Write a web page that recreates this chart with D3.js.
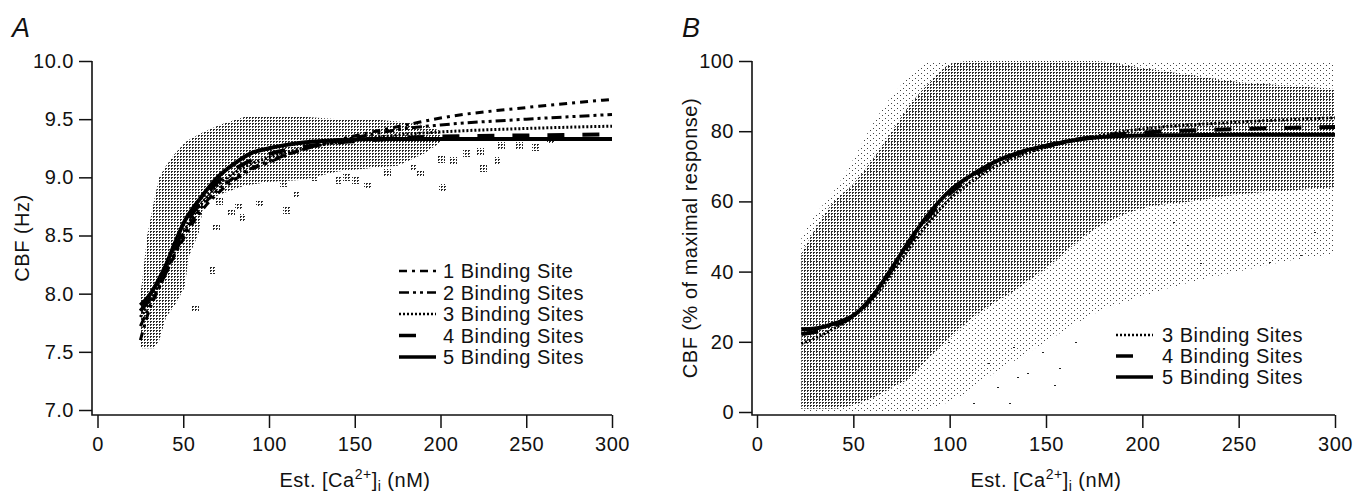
<!DOCTYPE html>
<html>
<head>
<meta charset="utf-8">
<script src="https://cdn.jsdelivr.net/npm/d3@7"></script>
<style>
  body { margin: 0; background: #fff; }
  text { font-family: "Liberation Sans", Arial, sans-serif; fill: #111; letter-spacing: 0.5px; }
</style>
</head>
<body>
<svg id="chart" width="1356" height="493"></svg>
<script>
// ---- data ----
const xTicks = [0, 50, 100, 150, 200, 250, 300];
const yTicksA = [7.0, 7.5, 8.0, 8.5, 9.0, 9.5, 10.0];
const yTicksB = [0, 20, 40, 60, 80, 100];

// panel A fits (CBF in Hz)
const fitXA = [25, 30, 35, 40, 45, 50, 60, 70, 80, 90, 100, 120, 140, 160, 180, 200, 250, 300];
const fitA1 = [7.60, 7.85, 8.02, 8.18, 8.33, 8.47, 8.70, 8.86, 8.98, 9.07, 9.13, 9.24, 9.32, 9.39, 9.45, 9.51, 9.60, 9.67];
const fitA2 = [7.72, 7.88, 8.03, 8.18, 8.34, 8.50, 8.73, 8.89, 9.00, 9.08, 9.14, 9.24, 9.31, 9.37, 9.42, 9.45, 9.50, 9.54];
const fitA3 = [7.80, 7.92, 8.05, 8.20, 8.36, 8.52, 8.76, 8.93, 9.04, 9.12, 9.17, 9.25, 9.30, 9.34, 9.37, 9.39, 9.42, 9.44];
const fitA4 = [7.85, 7.95, 8.08, 8.22, 8.39, 8.55, 8.79, 8.96, 9.07, 9.15, 9.20, 9.26, 9.30, 9.32, 9.34, 9.35, 9.36, 9.37];
const fitA5 = [7.90, 7.98, 8.10, 8.25, 8.43, 8.60, 8.82, 9.00, 9.12, 9.21, 9.25, 9.30, 9.32, 9.33, 9.33, 9.33, 9.33, 9.33];

// panel A data cloud envelope
const cloudXA  = [25, 26, 29, 33, 36, 40, 45, 51, 53, 57, 59, 62, 71, 86, 100, 120, 140, 160, 175, 190, 200];
const cloudHiA = [8.00, 8.10, 8.50, 8.80, 9.00, 9.10, 9.20, 9.30, 9.32, 9.35, 9.37, 9.39, 9.45, 9.52, 9.52, 9.52, 9.50, 9.50, 9.48, 9.45, 9.40];
const cloudLoA = [7.55, 7.53, 7.53, 7.53, 7.60, 7.80, 7.90, 8.06, 8.31, 8.45, 8.52, 8.78, 8.85, 8.93, 8.96, 8.98, 9.05, 9.08, 9.10, 9.20, 9.30];
// panel A scattered clumps below the band
const clumpXA = [57, 67, 69, 71, 78, 84, 82, 94, 108, 110, 116, 126, 140, 150, 145, 157, 169, 170, 184, 184, 188, 201, 200, 207, 215, 223, 225, 233, 235, 246, 255, 264];
const clumpYA = [7.88, 8.20, 8.57, 8.80, 8.70, 8.66, 8.75, 8.78, 8.95, 8.72, 8.86, 9.00, 8.98, 8.98, 9.00, 8.93, 9.05, 9.21, 9.21, 9.09, 9.04, 8.92, 9.16, 9.15, 9.21, 9.23, 9.08, 9.15, 9.28, 9.28, 9.26, 9.32];

// panel B fits (% of maximal response)
const fitXB = [23, 30, 40, 50, 60, 70, 80, 90, 100, 110, 120, 130, 140, 150, 165, 180, 200, 250, 300];
const fitB3 = [19.5, 21.0, 23.8, 27.2, 32.2, 39.5, 47.4, 54.6, 60.6, 65.1, 68.8, 71.6, 73.8, 75.4, 77.4, 79.0, 80.6, 82.6, 83.8];
const fitB4 = [22.2, 22.8, 24.6, 27.3, 32.8, 40.6, 48.8, 56.2, 62.2, 66.4, 69.8, 72.5, 74.5, 75.9, 77.5, 78.7, 79.6, 80.6, 81.2];
const fitB5 = [23.6, 23.8, 25.2, 27.5, 33.0, 41.0, 49.5, 57.0, 63.0, 67.0, 70.3, 72.8, 74.6, 75.8, 77.5, 78.4, 78.8, 79.0, 79.0];

// panel B data cloud envelopes (dense body and sparse halo)
const cloudXB    = [23, 30, 40, 50, 60, 70, 80, 90, 100, 110, 120, 135, 150, 175, 200, 225, 250, 275, 300];
const denseHiB   = [45, 52, 60, 65, 72, 80, 88, 94, 99, 100, 100, 100, 100, 100, 98, 96, 94, 93, 92];
const denseLoB   = [1, 1, 1, 2, 4, 7, 10, 16, 21, 26, 30, 35, 41, 52, 58, 60, 62, 63, 64];
const haloHiB    = [50, 56, 63, 72, 82, 90, 96, 100, 100, 100, 100, 100, 100, 100, 100, 100, 100, 100, 100];
const haloLoB    = [0, 0, 0, 0, 0, 0, 0, 1, 3, 6, 10, 15, 20, 28, 33, 37, 40, 43, 45];
const outXB = [99, 112, 124.6, 133, 131, 135, 140, 148, 154, 157, 216, 223, 230, 266, 282, 289, 165, 120];
const outYB = [20, 2.6, 7, 18.5, 2.6, 10, 11, 17, 7.7, 12.5, 54, 47.6, 42.5, 42.7, 44.7, 51.3, 20, 14];

const legendA = ['1 Binding Site', '2 Binding Sites', '3 Binding Sites', '4 Binding Sites', '5 Binding Sites'];
const legendB = ['3 Binding Sites', '4 Binding Sites', '5 Binding Sites'];

// ---- drawing ----
const svg = d3.select('#chart');
const defs = svg.append('defs');

function dotPattern(id, w, h, cells, color) {
    let p = defs.append('pattern')
        .attr('id', id)
        .attr('patternUnits', 'userSpaceOnUse')
        .attr('width', w).attr('height', h);
    cells.forEach(c => p.append('rect')
        .attr('x', c[0]).attr('y', c[1])
        .attr('width', 1).attr('height', 1)
        .attr('fill', color)
        .attr('shape-rendering', 'crispEdges'));
}
// little grid texture like the halftone of the scan
dotPattern('dense', 3, 3, [[0, 0], [1, 0], [0, 1]], '#2a2a2a');
dotPattern('sparse', 6, 5, [[0, 0], [3, 3]], '#444');

// line styles per number of binding sites
const styles = {
    1: {dash: '8,5,3,5', width: 3},
    2: {dash: '10,4,3,4,3,4', width: 3},
    3: {dash: '2,2', width: 3},
    4: {dash: '17,18', width: 4},
    5: {dash: null, width: 4}
};

function drawAxes(x, y, yTicks, fmt, x0, yTop, yBottom, xRight) {
    let gy = svg.append('g')
        .attr('transform', `translate(${x0},0)`)
        .call(d3.axisLeft(y).tickValues(yTicks).tickSize(13).tickPadding(5).tickFormat(fmt));
    gy.select('.domain').remove();
    let gx = svg.append('g')
        .attr('transform', `translate(0,${yBottom})`)
        .call(d3.axisBottom(x).tickValues(xTicks).tickSize(13).tickPadding(9).tickFormat(d3.format('d')));
    gx.select('.domain').remove();
    [gx, gy].forEach(g => {
        g.selectAll('line').attr('stroke', '#111').attr('stroke-width', 1.5);
        g.selectAll('text').attr('font-size', 20).attr('fill', '#111')
            .attr('font-family', '"Liberation Sans", Arial, sans-serif');
    });
    svg.append('path')
        .attr('d', `M${x0},${yTop}V${yBottom}H${xRight}`)
        .attr('fill', 'none').attr('stroke', '#111').attr('stroke-width', 1.6);
}

function xTitle(cx) {
    let t = svg.append('text').attr('x', cx).attr('y', 487)
        .attr('text-anchor', 'middle').attr('font-size', 20);
    t.append('tspan').text('Est. [Ca');
    t.append('tspan').attr('dy', -8).attr('font-size', 14).text('2+');
    t.append('tspan').attr('dy', 8).text(']');
    t.append('tspan').attr('dy', 4).attr('font-size', 14).text('i');
    t.append('tspan').attr('dy', -4).text(' (nM)');
}

function drawFit(x, y, xs, ys, n) {
    let st = styles[n];
    let line = d3.line().x((d, i) => x(xs[i])).y(d => y(d)).curve(d3.curveMonotoneX);
    svg.append('path')
        .attr('d', line(ys))
        .attr('fill', 'none')
        .attr('stroke', '#000')
        .attr('stroke-width', st.width)
        .attr('stroke-dasharray', st.dash);
}

function drawLegend(labels, nums, lx, tx, y0, dy) {
    labels.forEach((lab, i) => {
        let st = styles[nums[i]];
        let yy = y0 + i * dy;
        let len = nums[i] === 4 ? 17 : 37;
        svg.append('line')
            .attr('x1', lx).attr('x2', lx + len).attr('y1', yy).attr('y2', yy)
            .attr('stroke', '#000').attr('stroke-width', st.width - 0.5)
            .attr('stroke-dasharray', st.dash);
        svg.append('text').attr('x', tx).attr('y', yy).attr('dy', '0.36em')
            .attr('font-size', 20).text(lab);
    });
}

// ---------- panel A ----------
const xA = d3.scaleLinear([0, 300], [97.5, 612]);
const yA = d3.scaleLinear([7, 10], [410, 61]);

const areaA = d3.area()
    .x((d, i) => xA(cloudXA[i]))
    .y0((d, i) => yA(cloudLoA[i]))
    .y1(d => yA(d));
svg.append('path').attr('d', areaA(cloudHiA)).attr('fill', 'url(#dense)');

svg.append('g').selectAll('rect')
    .data(clumpXA)
    .join('rect')
    .attr('x', d => Math.round(xA(d)) - 3)
    .attr('y', (d, i) => Math.round(yA(clumpYA[i])) - 3)
    .attr('width', 7).attr('height', 7)
    .attr('fill', 'url(#dense)');

drawAxes(xA, yA, yTicksA, d3.format('.1f'), 92, 61, 415, 612);

[fitA1, fitA2, fitA3, fitA4, fitA5].forEach((ys, i) => drawFit(xA, yA, fitXA, ys, i + 1));

drawLegend(legendA, [1, 2, 3, 4, 5], 399, 443, 271, 21.5);

svg.append('text').attr('x', 12).attr('y', 37)
    .attr('font-size', 27).attr('font-style', 'italic').text('A');
svg.append('text')
    .attr('transform', 'translate(29,238) rotate(-90)')
    .attr('text-anchor', 'middle').attr('font-size', 20).text('CBF (Hz)');
xTitle(355);

// ---------- panel B ----------
const xB = d3.scaleLinear([0, 300], [757, 1335]);
const yB = d3.scaleLinear([0, 100], [412, 61]);

const areaHalo = d3.area()
    .x((d, i) => xB(cloudXB[i]))
    .y0((d, i) => yB(haloLoB[i]))
    .y1(d => yB(d))
    .curve(d3.curveMonotoneX);
svg.append('path').attr('d', areaHalo(haloHiB)).attr('fill', 'url(#sparse)');

const areaDense = d3.area()
    .x((d, i) => xB(cloudXB[i]))
    .y0((d, i) => yB(denseLoB[i]))
    .y1(d => yB(d))
    .curve(d3.curveMonotoneX);
svg.append('path').attr('d', areaDense(denseHiB)).attr('fill', 'url(#dense)');

svg.append('g').selectAll('rect')
    .data(outXB)
    .join('rect')
    .attr('x', d => Math.round(xB(d)))
    .attr('y', (d, i) => Math.round(yB(outYB[i])))
    .attr('width', 2).attr('height', 1)
    .attr('fill', '#222');

drawAxes(xB, yB, yTicksB, d3.format('d'), 752, 61, 415, 1335);

[fitB3, fitB4, fitB5].forEach((ys, i) => drawFit(xB, yB, fitXB, ys, i + 3));

drawLegend(legendB, [3, 4, 5], 1116, 1162, 335, 21);

svg.append('text').attr('x', 682).attr('y', 37)
    .attr('font-size', 27).attr('font-style', 'italic').text('B');
svg.append('text')
    .attr('transform', 'translate(697,238) rotate(-90)')
    .attr('text-anchor', 'middle').attr('font-size', 20).text('CBF (% of maximal response)');
xTitle(1046);
</script>
</body>
</html>
